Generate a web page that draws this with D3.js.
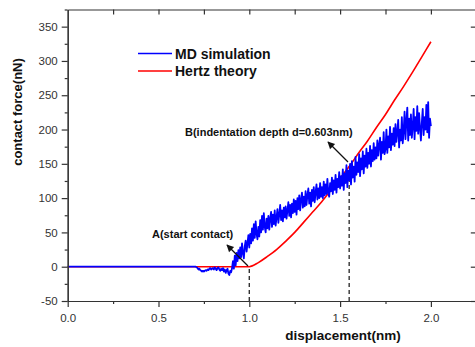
<!DOCTYPE html>
<html>
<head>
<meta charset="utf-8">
<script src="https://cdn.jsdelivr.net/npm/d3@7"></script>
<style>
  body { margin: 0; background: #fff; }
  svg { display: block; font-family: "Liberation Sans", Arial, sans-serif; }
</style>
</head>
<body>
<div id="chart"></div>
<script>
// x ticks, y ticks
const xTicks = [0.0, 0.5, 1.0, 1.5, 2.0];
const yTicks = [-50, 0, 50, 100, 150, 200, 250, 300, 350];

// Hertz theory curve
const hertzDisp = [0.0, 0.70, 1.00, 1.05, 1.10, 1.15, 1.20, 1.25, 1.30, 1.35, 1.40, 1.45, 1.50,
                   1.55, 1.60, 1.65, 1.70, 1.75, 1.80, 1.85, 1.90, 1.95, 2.00];
const hertzForce = [0, 0, 0, 6, 15, 25, 37, 50, 65, 80, 95, 112, 129,
                    146, 165, 183, 203, 222, 243, 263, 284, 306, 328];

// MD simulation: flat start, then samples every 0.005 nm from 0.70 to 2.00
const mdStart = 0.70, mdStep = 0.005;
const mdForce = [
  0, 0, -1, -2, -4, -3, -5, -6, -7, -6,
  -7, -6, -5, -6, -4, -5, -3, -2, -4, -3,
  -2, -4, -1, -3, -5, -2, -1, -4, -6, -3,
  -5, -2, -7, -4, -9, -5, -3, -10, -12, -6,
  -8, -2, 8, -3, 16, 2, 20, 8, 24, 12,
  28, 14, 34, 20, 12, 30, 38, 22, 34, 46,
  28, 48, 34, 56, 38, 62, 42, 66, 48, 40,
  58, 44, 68, 50, 74, 54, 78, 58, 50, 70,
  56, 74, 54, 70, 80, 58, 76, 62, 82, 60,
  72, 84, 64, 76, 90, 68, 82, 66, 86, 72,
  88, 70, 82, 94, 74, 90, 72, 92, 78, 98,
  80, 96, 76, 100, 84, 104, 82, 98, 108, 86,
  102, 88, 110, 90, 104, 114, 92, 108, 88, 112,
  96, 116, 94, 108, 120, 98, 114, 100, 122, 102,
  116, 100, 124, 104, 120, 106, 128, 108, 102, 122,
  110, 130, 106, 126, 112, 134, 108, 128, 116, 138,
  114, 132, 118, 142, 112, 136, 122, 148, 116, 140,
  126, 150, 120, 154, 130, 146, 124, 160, 134, 152,
  138, 164, 132, 158, 142, 168, 136, 162, 146, 172,
  144, 166, 150, 176, 146, 170, 154, 180, 156, 174,
  158, 184, 162, 178, 188, 156, 182, 166, 196, 164,
  172, 200, 166, 190, 174, 204, 170, 194, 178, 202,
  176, 208, 182, 196, 214, 174, 200, 184, 218, 180,
  198, 226, 186, 212, 232, 184, 216, 192, 222, 188,
  204, 230, 186, 218, 198, 234, 194, 224, 202, 184,
  210, 230, 192, 218, 200, 236, 196, 240, 188, 216,
  205
];

const seriesNames = ["MD simulation", "Hertz theory"];
const seriesColors = ["#0000ff", "#ff0000"];

const W = 475, H = 347;
const svg = d3.select("#chart").append("svg")
    .attr("width", W)
    .attr("height", H);

const x = d3.scaleLinear().domain([0, 2.25]).range([67.7, 476.3]);
const y = d3.scaleLinear().domain([-50, 375]).range([301, 9.5]);

const axisColor = "#333";

// arrow marker
svg.append("defs").append("marker")
    .attr("id", "arrow")
    .attr("viewBox", "0 0 10 10")
    .attr("refX", 9).attr("refY", 5)
    .attr("markerWidth", 7).attr("markerHeight", 6)
    .attr("orient", "auto")
  .append("path")
    .attr("d", "M0,0 L10,5 L0,10 z")
    .attr("fill", "#111");

// dashed guide lines
const guides = [[1.0, 0], [1.55, 146]];
svg.selectAll(".guide").data(guides).enter().append("line")
    .attr("class", "guide")
    .attr("x1", d => x(d[0])).attr("x2", d => x(d[0]))
    .attr("y1", y(-50)).attr("y2", d => y(d[1]))
    .attr("stroke", "#333")
    .attr("stroke-width", 1.4)
    .attr("stroke-dasharray", "4,3");

// lines
const hertzData = hertzDisp.map((d, i) => [d, hertzForce[i]]);
const mdData = [[0, 0]].concat(mdForce.map((v, i) => [mdStart + i * mdStep, v]));

svg.append("path")
    .datum(hertzData)
    .attr("d", d3.line().x(d => x(d[0])).y(d => y(d[1])).curve(d3.curveMonotoneX))
    .attr("fill", "none")
    .attr("stroke", seriesColors[1])
    .attr("stroke-width", 1.6);

svg.append("path")
    .datum(mdData)
    .attr("d", d3.line().x(d => x(d[0])).y(d => y(d[1])))
    .attr("fill", "none")
    .attr("stroke", seriesColors[0])
    .attr("stroke-width", 1.8)
    .attr("stroke-linejoin", "round");

// axes
const bottom = svg.append("g")
    .attr("transform", `translate(0,${y(-50)})`)
    .call(d3.axisBottom(x).tickValues(xTicks).tickFormat(d3.format(".1f")).tickSize(6).tickSizeOuter(0));
svg.append("g")
    .attr("transform", `translate(0,${y(-50)})`)
    .call(d3.axisBottom(x).tickValues([0.25, 0.75, 1.25, 1.75]).tickFormat("").tickSize(3).tickSizeOuter(0));

const left = svg.append("g")
    .attr("transform", `translate(${x(0)},0)`)
    .call(d3.axisLeft(y).tickValues(yTicks).tickFormat(d => String(d)).tickSize(6).tickSizeOuter(0));
svg.append("g")
    .attr("transform", `translate(${x(0)},0)`)
    .call(d3.axisLeft(y).tickValues([-25, 25, 75, 125, 175, 225, 275, 325, 375]).tickFormat("").tickSize(3).tickSizeOuter(0));

svg.append("g")
    .attr("transform", `translate(0,${y(375)})`)
    .call(d3.axisBottom(x).tickValues([0.25, 0.5, 0.75, 1.0, 1.25, 1.5, 1.75, 2.0]).tickFormat("").tickSize(5).tickSizeOuter(0));

svg.append("g")
    .attr("transform", `translate(${x(2.25)},0)`)
    .call(d3.axisLeft(y).tickValues(yTicks).tickFormat("").tickSize(5.5).tickSizeOuter(0));

svg.selectAll(".domain, .tick line")
    .attr("stroke", axisColor)
    .attr("stroke-width", 1.2);
svg.selectAll(".tick text")
    .attr("fill", "#333")
    .style("font-size", "11.5px");
bottom.selectAll(".tick text").attr("dy", "1.05em");
left.selectAll(".tick text").attr("dx", "-1px");

// axis titles
svg.append("text")
    .attr("x", 343).attr("y", 340)
    .attr("text-anchor", "middle")
    .style("font-size", "13.5px").style("font-weight", "bold")
    .attr("fill", "#111")
    .text("displacement(nm)");

svg.append("text")
    .attr("transform", `translate(22,112) rotate(-90)`)
    .attr("text-anchor", "middle")
    .style("font-size", "13px").style("font-weight", "bold")
    .attr("fill", "#111")
    .text("contact force(nN)");

// legend
const legend = svg.selectAll(".legend").data(seriesNames).enter().append("g")
    .attr("class", "legend")
    .attr("transform", (d, i) => `translate(138,${53.5 + i * 17.5})`);
legend.append("line")
    .attr("x1", 0).attr("x2", 34)
    .attr("stroke", (d, i) => seriesColors[i])
    .attr("stroke-width", 1.6);
legend.append("text")
    .attr("x", 37).attr("y", 5)
    .style("font-size", "14px").style("font-weight", "bold")
    .attr("fill", "#111")
    .text(d => d);

// annotations
const notes = [
  {text: "A(start contact)", tx: 152, ty: 238, from: [248, 266], to: [227, 245]},
  {text: "B(indentation depth d=0.603nm)", tx: 185, ty: 136, from: [348, 162], to: [328, 142]}
];
const ann = svg.selectAll(".note").data(notes).enter().append("g").attr("class", "note");
ann.append("text")
    .attr("x", d => d.tx).attr("y", d => d.ty)
    .style("font-size", "11px").style("font-weight", "bold")
    .attr("fill", "#111")
    .text(d => d.text);
ann.append("line")
    .attr("x1", d => d.from[0]).attr("y1", d => d.from[1])
    .attr("x2", d => d.to[0]).attr("y2", d => d.to[1])
    .attr("stroke", "#111")
    .attr("stroke-width", 1.2)
    .attr("marker-end", "url(#arrow)");
</script>
</body>
</html>
